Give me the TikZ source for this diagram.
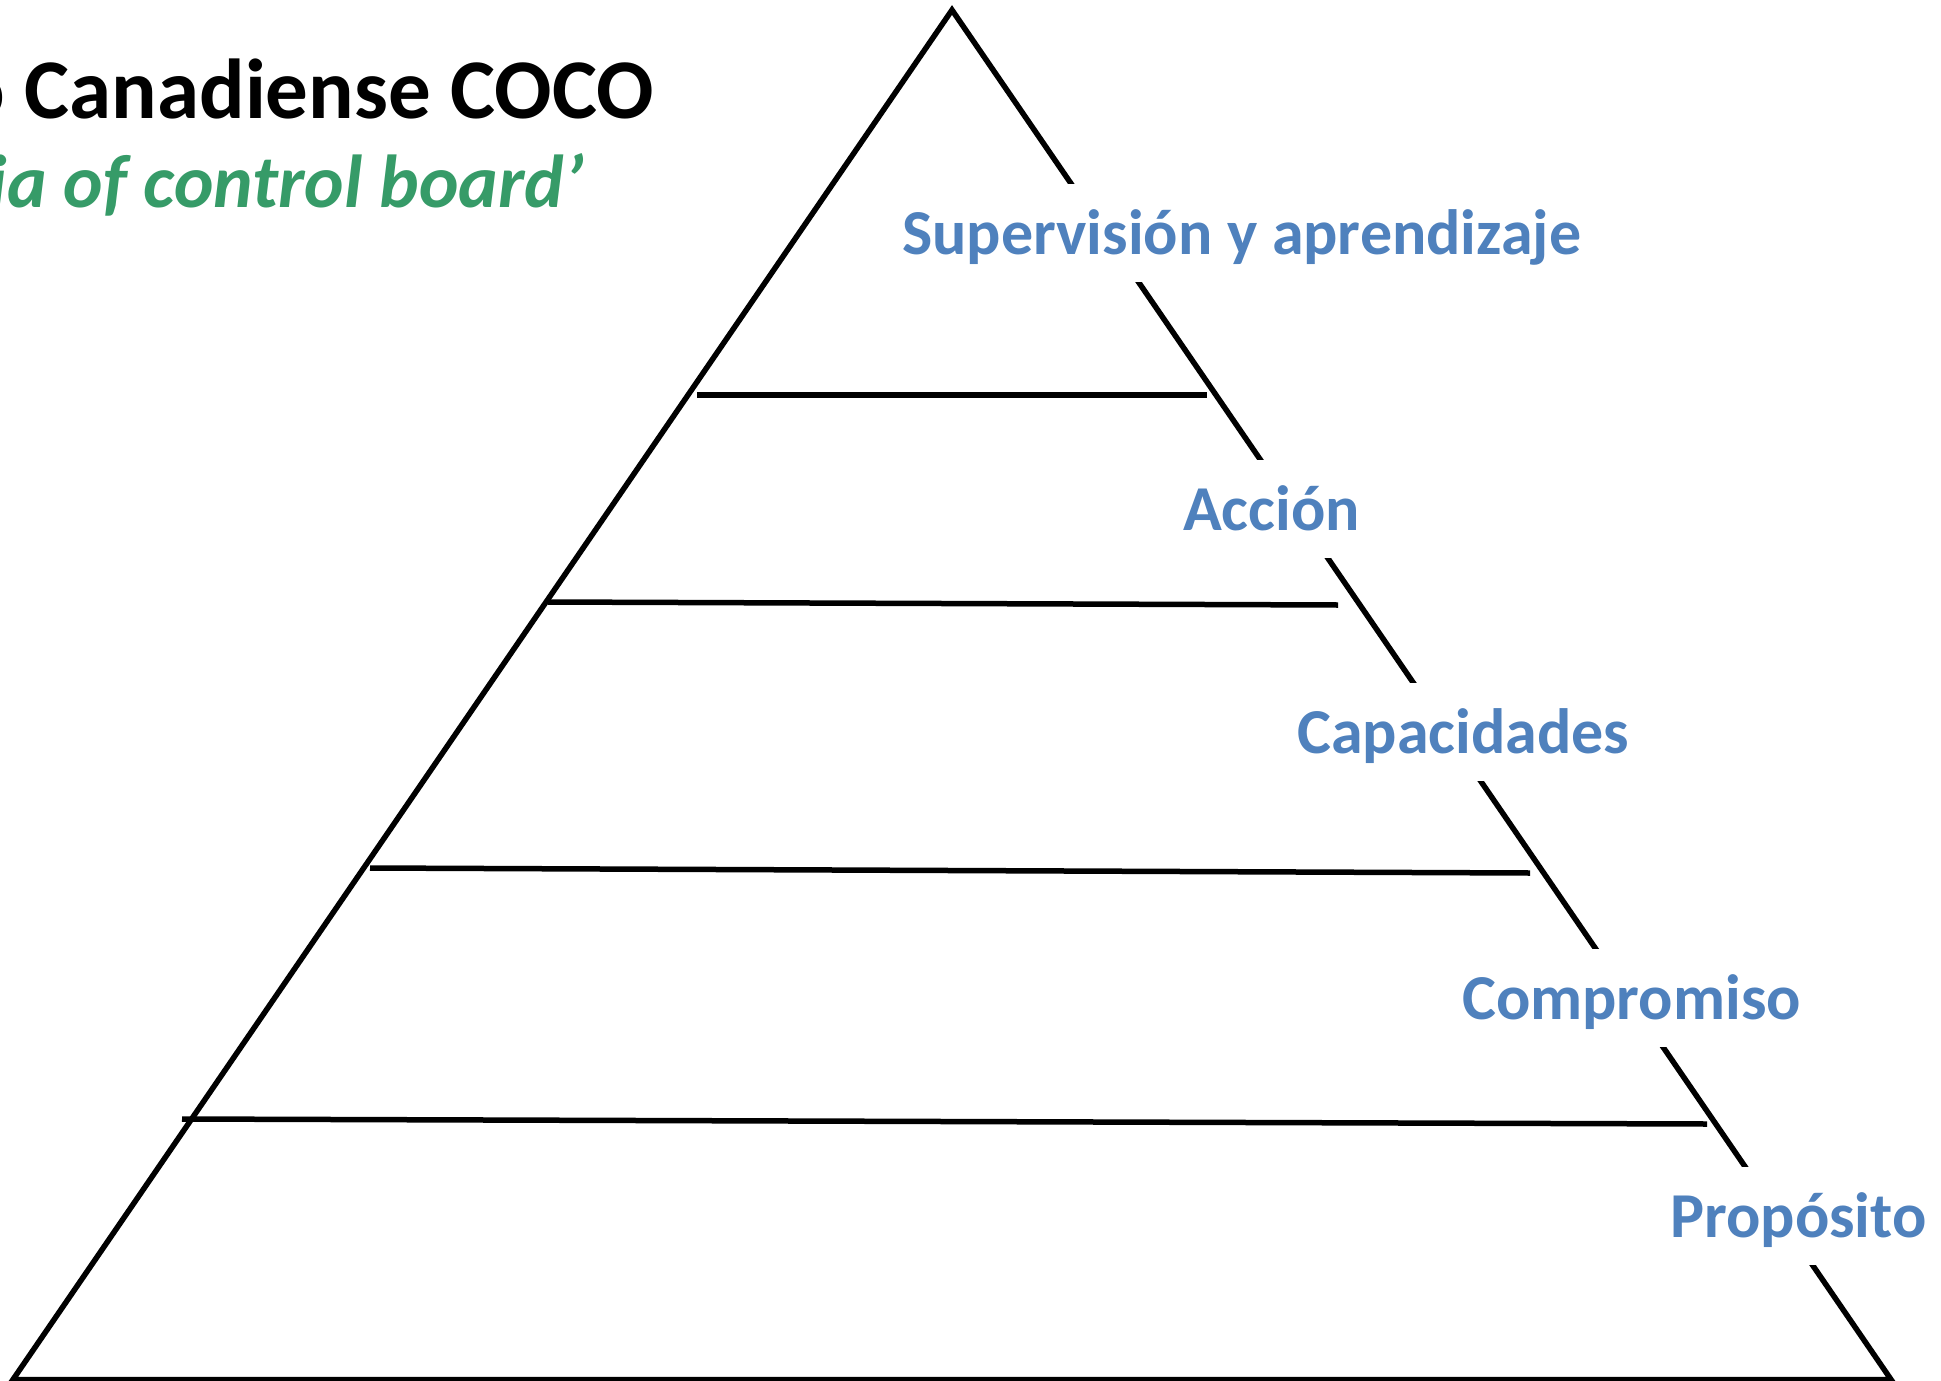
\documentclass[tikz,border=0pt]{standalone}
\usepackage{fontspec}
\setmainfont{Carlito}
\definecolor{lblblue}{RGB}{79,129,189}
\definecolor{ttlgreen}{RGB}{54,155,104}
\begin{document}
\begin{tikzpicture}[x=1pt,y=-1pt,
  edge/.style={line width=5.5pt, line cap=butt, line join=miter},
  lvl/.style={fill=white, text=lblblue, font=\fontsize{64}{70}\selectfont\bfseries, inner sep=0pt, text height=70.5pt, text depth=27.5pt, anchor=base west}]
\useasboundingbox (0,0) rectangle (1941,1381);
\fill[white] (0,0) rectangle (1941,1381);
% triangle
\coordinate (apex) at (952,10);
\coordinate (bl) at (13,1379.5);
\coordinate (br) at (1891,1379.5);
\draw[edge] (bl) -- (apex) -- (br) -- cycle;
% dividers
\coordinate (d1l) at (697,395);  \coordinate (d1r) at (1207,395);
\coordinate (d2l) at (548,602);  \coordinate (d2r) at (1338,605);
\coordinate (d3l) at (370,868);  \coordinate (d3r) at (1530,873);
\coordinate (d4l) at (182,1119); \coordinate (d4r) at (1707,1124);
\draw[edge] (d1l) -- (d1r);
\draw[edge] (d2l) -- (d2r);
\draw[edge] (d3l) -- (d3r);
\draw[edge] (d4l) -- (d4r);
% labels
\node[lvl] (sup) at (902,254) {Supervisión y aprendizaje};
\node[lvl] (acc) at (1183,530) {Acción};
\node[lvl] (cap) at (1297,753) {Capacidades};
\node[lvl] (com) at (1462,1019) {Compromiso};
\node[lvl] (pro) at (1670,1237) {Propósito};
% title
\node[anchor=base east, inner sep=0pt, font=\fontsize{85}{100}\selectfont\bfseries] (title) at (654,118) {o Canadiense COCO};
\node[anchor=base east, inner sep=0pt, text=ttlgreen, font=\fontsize{75}{88}\selectfont\bfseries\itshape] (sub) at (584,207) {ia of control board’};
\end{tikzpicture}
\end{document}
